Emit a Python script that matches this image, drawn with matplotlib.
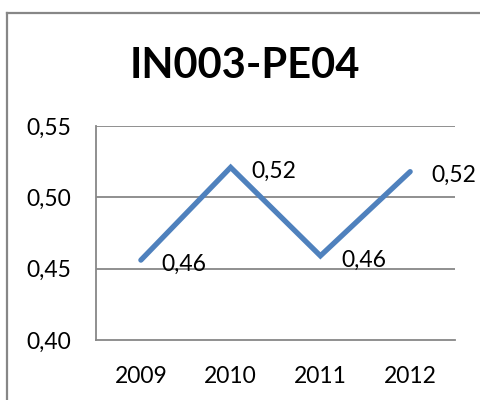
import matplotlib.pyplot as plt
from matplotlib.lines import Line2D

years = ["2009", "2010", "2011", "2012"]
values = [0.456, 0.521, 0.459, 0.518]
labels = ["0,46", "0,52", "0,46", "0,52"]
yticks = [0.40, 0.45, 0.50, 0.55]
ytick_labels = ["0,40", "0,45", "0,50", "0,55"]

plt.rcParams['font.family'] = ['Lato', 'DejaVu Sans']

fig = plt.figure(figsize=(4.8, 4.0), dpi=100)
ax = fig.add_axes([0.2, 0.15, 0.748, 0.535])

grey = "#878787"
x = range(len(years))
ax.plot(x, values, color="#4F81BD", linewidth=3.8, solid_capstyle="round",
        solid_joinstyle="miter", zorder=3)

for xi, v, lab in zip(x, values, labels):
    ax.annotate(lab, (xi, v), xytext=(15, -3), textcoords="offset points",
                ha="left", va="center", fontsize=16.5, color="black",
                annotation_clip=False)

ax.set_xlim(-0.5, 3.5)
ax.set_ylim(0.40, 0.55)
ax.set_yticks(yticks)
ax.set_yticklabels(ytick_labels)
ax.set_xticks(list(x))
ax.set_xticklabels(years)
ax.tick_params(axis="both", length=0, labelsize=16.5)
ax.tick_params(axis="y", pad=18)
ax.tick_params(axis="x", pad=19)

for yv in yticks[1:]:
    ax.axhline(yv, color=grey, linewidth=1.3, zorder=1)

ax.spines["top"].set_visible(False)
ax.spines["right"].set_visible(False)
ax.spines["left"].set_color(grey)
ax.spines["bottom"].set_color(grey)
ax.spines["left"].set_linewidth(1.3)
ax.spines["bottom"].set_linewidth(1.3)

fig.text(0.51, 0.835, "IN003-PE04", ha="center", va="center",
         fontsize=30, fontweight="bold")

# outer chart border
fig.add_artist(Line2D([0.0146, 0.0146], [0.9675, -0.01], color=grey, linewidth=1.6))
fig.add_artist(Line2D([0.0146, 1.01], [0.9675, 0.9675], color=grey, linewidth=1.6))

fig.savefig("out.png", dpi=100)
